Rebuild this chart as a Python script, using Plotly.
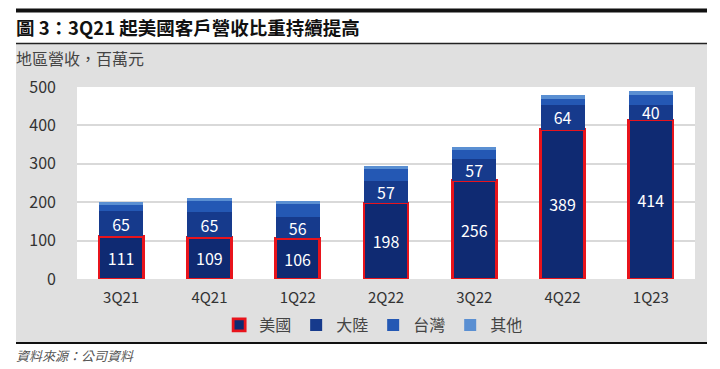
import plotly.graph_objects as go

quarters = ["3Q21", "4Q21", "1Q22", "2Q22", "3Q22", "4Q22", "1Q23"]
us = [111, 109, 106, 198, 256, 389, 414]
china = [65, 65, 56, 57, 57, 64, 40]
taiwan = [17, 30, 33, 32, 22, 16, 24]
other = [8, 8, 8, 8, 9, 10, 12]
yticks = [0, 100, 200, 300, 400, 500]

FONT = "Noto Sans CJK TC"
OX, OY = 8, 8  # page offset of the figure inside the browser window
W, H = 720 - OX, 369 - OY
L, R, T, B = 77 - OX, 695 - OX, 87 - OY, 279 - OY  # plot area bounds in figure pixels


def px(x):
    return (x - OX - L) / (R - L)


def py(y):
    return (B - (y - OY)) / (B - T)


fig = go.Figure()
fig.add_trace(go.Bar(
    x=quarters, y=us, name="美國",
    marker=dict(color="#0f2a72", line=dict(color="#e8141c", width=2.8)),
    text=[str(v) for v in us], textposition="inside", insidetextanchor="middle", textangle=0,
    textfont=dict(color="white", size=16, family=FONT), constraintext="none",
))
fig.add_trace(go.Bar(
    x=quarters, y=china, name="大陸",
    marker=dict(color="#163a8c", line=dict(width=0)),
    text=[str(v) for v in china], textposition="inside", insidetextanchor="middle", textangle=0,
    textfont=dict(color="white", size=16, family=FONT), constraintext="none",
))
fig.add_trace(go.Bar(
    x=quarters, y=taiwan, name="台灣",
    marker=dict(color="#2458b4", line=dict(width=0)),
))
fig.add_trace(go.Bar(
    x=quarters, y=other, name="其他",
    marker=dict(color="#5a8fd2", line=dict(width=0)),
))

shapes = [
    dict(type="rect", xref="paper", yref="paper", x0=px(16), x1=px(707), y0=py(343), y1=py(44),
         fillcolor="#e0e0e0", line=dict(width=0), layer="below"),
    dict(type="rect", xref="paper", yref="paper", x0=0, x1=1, y0=0, y1=1,
         fillcolor="white", line=dict(width=0), layer="below"),
    dict(type="line", xref="paper", yref="paper", x0=px(16), x1=px(707), y0=py(10.5), y1=py(10.5),
         line=dict(color="#111111", width=4)),
    dict(type="line", xref="paper", yref="paper", x0=px(16), x1=px(707), y0=py(43.5), y1=py(43.5),
         line=dict(color="#222222", width=1.5)),
    dict(type="line", xref="paper", yref="paper", x0=px(16), x1=px(707), y0=py(343), y1=py(343),
         line=dict(color="#111111", width=2)),
]

annotations = [
    dict(text="<b>圖 3：3Q21 起美國客戶營收比重持續提高</b>", xref="paper", yref="paper",
         x=px(14), y=py(27), xanchor="left", yanchor="middle", showarrow=False,
         font=dict(size=18.5, color="#111111", family=FONT)),
    dict(text="地區營收，百萬元", xref="paper", yref="paper",
         x=px(14), y=py(58), xanchor="left", yanchor="middle", showarrow=False,
         font=dict(size=16, color="#444444", family=FONT)),
    dict(text="<i>資料來源：公司資料</i>", xref="paper", yref="paper",
         x=px(14), y=py(355), xanchor="left", yanchor="middle", showarrow=False,
         font=dict(size=13, color="#555555", family=FONT)),
]

fig.update_layout(
    width=W, height=H,
    margin=dict(l=L, r=W - R, t=T, b=H - B, pad=0),
    barmode="stack", bargap=0.5,
    paper_bgcolor="white", plot_bgcolor="rgba(0,0,0,0)",
    font=dict(family=FONT, color="#333333"),
    shapes=shapes, annotations=annotations,
    showlegend=True,
    legend=dict(orientation="h", x=0.48, xanchor="center", y=py(325), yanchor="middle",
                font=dict(size=16, color="#444444", family=FONT), itemwidth=30,
                bgcolor="rgba(0,0,0,0)", traceorder="normal"),
)
fig.update_xaxes(showgrid=False, showline=False, zeroline=False, ticks="",
                 tickfont=dict(size=15, color="#333333", family=FONT), ticklabelstandoff=8)
fig.update_yaxes(range=[0, 500], tickvals=yticks, showgrid=True, gridcolor="#d9d9d9", gridwidth=1.5,
                 zeroline=False, showline=False, ticks="",
                 tickfont=dict(size=16, color="#333333", family=FONT), ticklabelstandoff=20)

fig.write_html("out.html")
